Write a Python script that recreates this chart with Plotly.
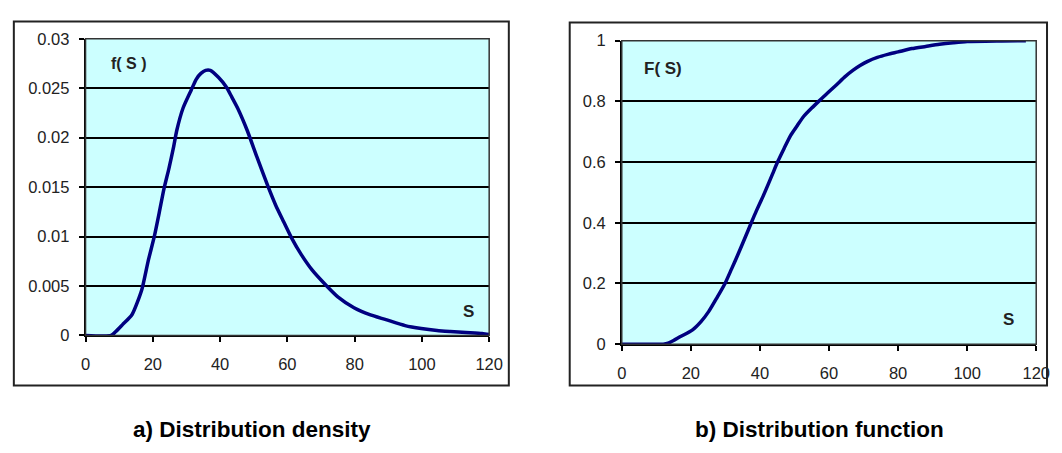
import plotly.graph_objects as go

# ---- data ----
s_density = [0, 7.6, 9, 11, 13.8, 16.7, 18.6, 20.5, 21.9, 23.3, 24.8, 26.2, 27.1, 29, 31.4,
             32.9, 34.3, 35.7, 37.1, 39.5, 41.9, 43.5, 45.2, 48.1, 51, 54.1, 56.5, 58.9, 61.2,
             64.1, 67.4, 71.7, 75, 79.8, 84.5, 89.3, 95, 99.8, 104.5, 108.4, 113.1, 117.9, 120]
f_density = [0, 0, 0.0004, 0.0011, 0.0021, 0.0046, 0.0075, 0.0101, 0.0124, 0.0148, 0.0169,
             0.0191, 0.0207, 0.0230, 0.0248, 0.0259, 0.0265, 0.0268, 0.0268, 0.0261, 0.0251,
             0.0241, 0.0230, 0.0207, 0.0180, 0.0152, 0.0132, 0.0115, 0.0099, 0.0082, 0.0066,
             0.0050, 0.0039, 0.0028, 0.0021, 0.0016, 0.0010, 0.0007, 0.0005, 0.0004, 0.0003,
             0.0002, 0.0001]

s_cdf = [0, 12, 13.4, 15, 17, 20.5, 23, 25.2, 27.5, 29.9, 31.8, 33.7, 35.6, 37.5, 39, 40.9,
         42.3, 43.7, 45.1, 47, 48.9, 50.8, 52.7, 55, 57, 59.5, 62.2, 64.5, 66.9, 69, 71.2, 74,
         77, 80, 84, 88, 92, 96, 100, 110, 117]
F_cdf = [0, 0, 0.003, 0.012, 0.025, 0.047, 0.075, 0.108, 0.152, 0.2, 0.248, 0.297, 0.348, 0.4,
         0.44, 0.487, 0.524, 0.562, 0.6, 0.645, 0.688, 0.72, 0.751, 0.778, 0.8, 0.827, 0.855,
         0.88, 0.902, 0.918, 0.932, 0.945, 0.955, 0.963, 0.974, 0.981, 0.988, 0.993, 0.997,
         0.999, 1.0]

x_ticks = [0, 20, 40, 60, 80, 100, 120]
y_ticks_density = [0, 0.005, 0.01, 0.015, 0.02, 0.025, 0.03]
y_ticklabels_density = ["0", "0.005", "0.01", "0.015", "0.02", "0.025", "0.03"]
y_ticks_cdf = [0, 0.2, 0.4, 0.6, 0.8, 1]
y_ticklabels_cdf = ["0", "0.2", "0.4", "0.6", "0.8", "1"]

titles = ["a) Distribution density", "b) Distribution function"]
ylabels = ["f( S )", "F( S)"]
xlabel = "S"

# ---- layout helpers ----
W, H = 1062, 453
def px(x):
    return x / W
def py(y):
    return (H - y) / H

LINE = "#000080"
BG = "#CCFFFF"
FONT = "Liberation Sans, Arial, sans-serif"
TXT = "#222222"

fig = go.Figure()
fig.add_trace(go.Scatter(x=s_density, y=f_density, mode="lines",
                         line=dict(color=LINE, width=3.5, shape="spline", smoothing=0.6),
                         xaxis="x", yaxis="y", showlegend=False, hoverinfo="skip"))
fig.add_trace(go.Scatter(x=s_cdf, y=F_cdf, mode="lines",
                         line=dict(color=LINE, width=3.5, shape="spline", smoothing=0.6),
                         xaxis="x2", yaxis="y2", showlegend=False, hoverinfo="skip"))

axis_common = dict(showline=True, linecolor="black", linewidth=1.5, ticks="outside",
                   ticklen=5, tickwidth=1.5, tickcolor="black",
                   tickfont=dict(family=FONT, size=16.5, color=TXT), zeroline=False)

fig.update_layout(
    width=W, height=H,
    margin=dict(l=0, r=0, t=0, b=0),
    paper_bgcolor="white",
    plot_bgcolor=BG,
    xaxis=dict(domain=[px(82), px(493)], range=[0, 120], tickvals=x_ticks,
               showgrid=False, anchor="y", ticklabelstandoff=8, **axis_common),
    yaxis=dict(domain=[py(340), py(31)], range=[0, 0.03], tickvals=y_ticks_density,
               ticktext=y_ticklabels_density, showgrid=True, gridcolor="black",
               gridwidth=1.5, anchor="x", ticklabelstandoff=6, **axis_common),
    xaxis2=dict(domain=[px(628), px(1050)], range=[0, 120], tickvals=x_ticks,
                showgrid=False, anchor="y2", ticklabelstandoff=8, **axis_common),
    yaxis2=dict(domain=[py(349), py(33)], range=[0, 1], tickvals=y_ticks_cdf,
                ticktext=y_ticklabels_cdf, showgrid=True, gridcolor="black",
                gridwidth=1.5, anchor="x2", ticklabelstandoff=6, **axis_common),
)

shapes = [
    # plot area borders
    dict(type="rect", xref="paper", yref="paper", x0=px(82), x1=px(493), y0=py(340), y1=py(31),
         line=dict(color="#333333", width=1.5), layer="above"),
    dict(type="rect", xref="paper", yref="paper", x0=px(628), x1=px(1050), y0=py(349), y1=py(33),
         line=dict(color="#333333", width=1.5), layer="above"),
    # outer chart frames
    dict(type="rect", xref="paper", yref="paper", x0=px(9), x1=px(513), y0=py(392), y1=py(13),
         line=dict(color="#222222", width=2)),
    dict(type="rect", xref="paper", yref="paper", x0=px(575), x1=px(1061), y0=py(392), y1=py(14),
         line=dict(color="#222222", width=2)),
]
fig.update_layout(shapes=shapes)

annotations = [
    dict(text="<b>%s</b>" % ylabels[0], x=px(106), y=py(57), xref="paper", yref="paper",
         xanchor="left", yanchor="middle", showarrow=False,
         font=dict(family=FONT, size=16, color=TXT)),
    dict(text="<b>%s</b>" % xlabel, x=px(472), y=py(315), xref="paper", yref="paper",
         xanchor="center", yanchor="middle", showarrow=False,
         font=dict(family=FONT, size=17, color=TXT)),
    dict(text="<b>%s</b>" % ylabels[1], x=px(649), y=py(62), xref="paper", yref="paper",
         xanchor="left", yanchor="middle", showarrow=False,
         font=dict(family=FONT, size=17, color=TXT)),
    dict(text="<b>%s</b>" % xlabel, x=px(1022), y=py(323), xref="paper", yref="paper",
         xanchor="center", yanchor="middle", showarrow=False,
         font=dict(family=FONT, size=17, color=TXT)),
    dict(text="<b>%s</b>" % titles[0], x=px(251), y=py(438), xref="paper", yref="paper",
         xanchor="center", yanchor="middle", showarrow=False,
         font=dict(family=FONT, size=22.5, color="black")),
    dict(text="<b>%s</b>" % titles[1], x=px(829), y=py(438), xref="paper", yref="paper",
         xanchor="center", yanchor="middle", showarrow=False,
         font=dict(family=FONT, size=22.5, color="black")),
]
fig.update_layout(annotations=annotations)

fig.write_html("out.html")
